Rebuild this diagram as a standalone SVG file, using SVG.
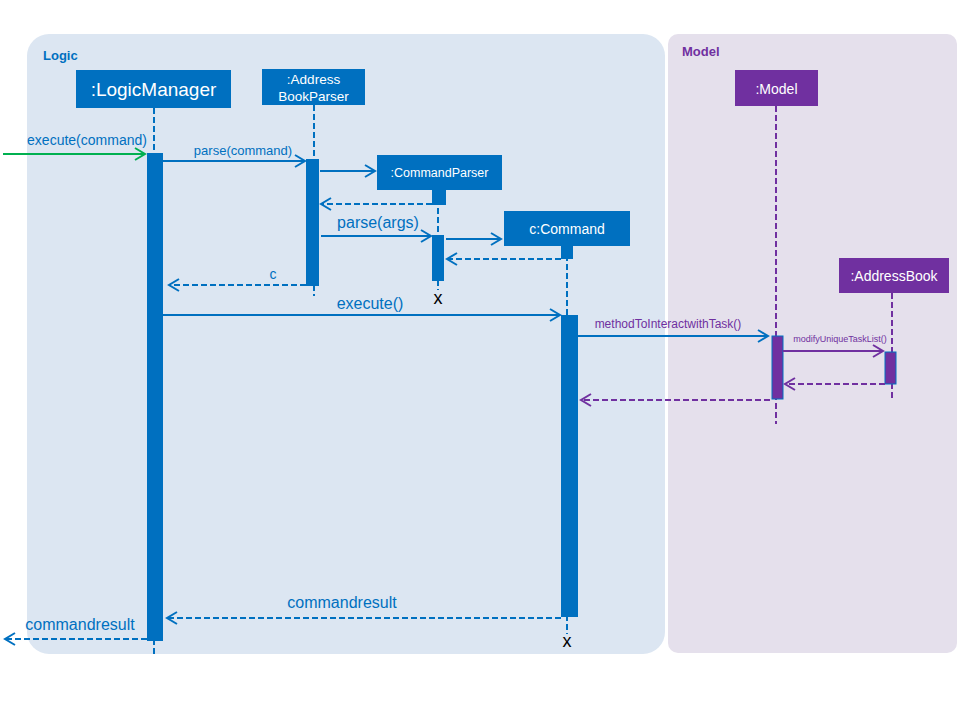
<svg xmlns="http://www.w3.org/2000/svg" width="960" height="720" viewBox="0 0 960 720">
<defs>
<style>
text{font-family:"Liberation Sans",Arial,sans-serif}
.obj{fill:#0070c0}
.objp{fill:#7030a0}
.ot{fill:#fff;text-anchor:middle}
.life{stroke:#0070c0;stroke-width:2;stroke-dasharray:6 3;fill:none}
.lifep{stroke:#7030a0;stroke-width:2;stroke-dasharray:6 3;fill:none}
.act{fill:#0070c0}
.actp{fill:#7030a0;stroke:#0070c0;stroke-width:1}
.msg{stroke:#0070c0;stroke-width:2;fill:none;marker-end:url(#ab)}
.ret{stroke:#0070c0;stroke-width:2;fill:none;stroke-dasharray:6 3;marker-end:url(#ab)}
.msgp{stroke:#7030a0;stroke-width:2;fill:none;marker-end:url(#ap)}
.retp{stroke:#7030a0;stroke-width:2;fill:none;stroke-dasharray:6 3;marker-end:url(#ap)}
.lb{fill:#0070c0}
.lp{fill:#7030a0}
.x{fill:#000;font-size:18px;text-anchor:middle}
</style>
<marker id="ab" markerWidth="14" markerHeight="14" refX="11" refY="7" orient="auto" markerUnits="userSpaceOnUse"><path d="M1,1 L11,7 L1,13" fill="none" stroke="#0070c0" stroke-width="2"/></marker>
<marker id="ap" markerWidth="14" markerHeight="14" refX="11" refY="7" orient="auto" markerUnits="userSpaceOnUse"><path d="M1,1 L11,7 L1,13" fill="none" stroke="#7030a0" stroke-width="2"/></marker>
<marker id="ag" markerWidth="14" markerHeight="14" refX="11" refY="7" orient="auto" markerUnits="userSpaceOnUse"><path d="M1,1 L11,7 L1,13" fill="none" stroke="#00b050" stroke-width="2"/></marker>
</defs>
<rect width="960" height="720" fill="#fff"/>
<g id="frame-logic">
<rect x="27" y="34" width="638" height="620" rx="22" fill="#dce6f2"/>
<text x="43" y="60" font-size="13" font-weight="bold" fill="#0070c0">Logic</text>
</g>
<g id="frame-model">
<rect x="668" y="34" width="289" height="619" rx="10" fill="#e5e0ec"/>
<text x="682" y="56" font-size="13" font-weight="bold" fill="#7030a0">Model</text>
</g>
<g id="logicmanager">
<line class="life" x1="154" y1="108" x2="154" y2="654"/>
<rect class="obj" x="76" y="70" width="155" height="38"/>
<text class="ot" x="153.5" y="96" font-size="19">:LogicManager</text>
<rect class="act" x="147" y="153" width="16" height="488"/>
</g>
<g id="addressbookparser">
<line class="life" x1="314" y1="105" x2="314" y2="296"/>
<rect class="obj" x="262" y="69" width="103" height="36"/>
<text class="ot" x="313.5" y="84" font-size="13.5">:Address</text>
<text class="ot" x="313.5" y="101" font-size="13.5">BookParser</text>
<rect class="act" x="306" y="159" width="13" height="127"/>
</g>
<g id="commandparser">
<line class="life" x1="438" y1="190" x2="438" y2="290"/>
<rect class="obj" x="377" y="155" width="125" height="35"/>
<text class="ot" x="439.5" y="177" font-size="12.5">:CommandParser</text>
<rect class="act" x="432" y="190" width="14" height="15"/>
<rect class="act" x="432" y="235" width="12" height="46"/>
<text class="x" x="438" y="304">x</text>
</g>
<g id="command">
<line class="life" x1="567" y1="246" x2="567" y2="634"/>
<rect class="obj" x="504" y="211" width="126" height="35"/>
<text class="ot" x="567" y="234" font-size="14">c:Command</text>
<rect class="act" x="561" y="246" width="12" height="13"/>
<rect class="act" x="561" y="315" width="17" height="302"/>
<text class="x" x="567" y="647">x</text>
</g>
<g id="model">
<line class="lifep" x1="776" y1="106" x2="776" y2="424"/>
<rect class="objp" x="735" y="70" width="83" height="36"/>
<text class="ot" x="776.5" y="94" font-size="14">:Model</text>
<rect class="actp" x="772" y="336" width="11" height="63"/>
</g>
<g id="addressbook">
<line class="lifep" x1="892" y1="293" x2="892" y2="398"/>
<rect class="objp" x="839" y="258" width="110" height="35"/>
<text class="ot" x="894" y="281" font-size="14">:AddressBook</text>
<rect class="actp" x="885" y="352" width="11" height="32"/>
</g>
<g id="connectors">
<line x1="3" y1="154" x2="145" y2="154" stroke="#00b050" stroke-width="2" marker-end="url(#ag)"/>
<text class="lb" x="87" y="145" font-size="14" text-anchor="middle">execute(command)</text>
<line class="msg" x1="163" y1="161" x2="305" y2="161"/>
<text class="lb" x="243" y="155" font-size="13" text-anchor="middle">parse(command)</text>
<line class="msg" x1="320" y1="171" x2="375" y2="171"/>
<line class="ret" x1="432" y1="204" x2="321" y2="204"/>
<line class="msg" x1="321" y1="236" x2="431" y2="236"/>
<text class="lb" x="378" y="228" font-size="16" text-anchor="middle">parse(args)</text>
<line class="msg" x1="446" y1="239" x2="501" y2="239"/>
<line class="ret" x1="561" y1="259" x2="447" y2="259"/>
<line class="ret" x1="306" y1="285" x2="169" y2="285"/>
<text class="lb" x="273" y="279" font-size="14" text-anchor="middle">c</text>
<line class="msg" x1="163" y1="315" x2="560" y2="315"/>
<text class="lb" x="370" y="309" font-size="16" text-anchor="middle">execute()</text>
<line class="msg" x1="578" y1="336" x2="768" y2="336"/>
<text class="lp" x="668" y="328" font-size="12" text-anchor="middle">methodToInteractwithTask()</text>
<line class="msgp" x1="783" y1="351" x2="883" y2="351"/>
<text class="lp" x="840" y="342" font-size="9" text-anchor="middle">modifyUniqueTaskList()</text>
<line class="retp" x1="885" y1="384" x2="785" y2="384"/>
<line class="retp" x1="770" y1="400" x2="581" y2="400"/>
<line class="ret" x1="561" y1="618" x2="167" y2="618"/>
<text class="lb" x="342" y="608" font-size="16" text-anchor="middle">commandresult</text>
<line class="ret" x1="147" y1="639" x2="5" y2="639"/>
<text class="lb" x="80" y="630" font-size="16" text-anchor="middle">commandresult</text>
</g>
</svg>
